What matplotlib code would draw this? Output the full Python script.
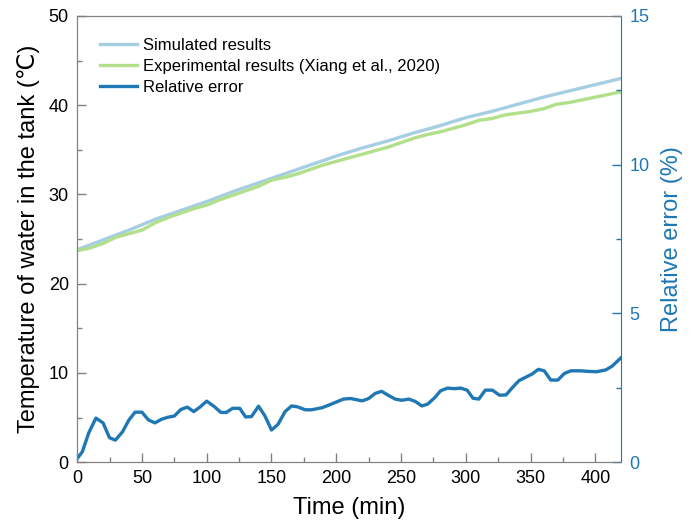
import matplotlib
matplotlib.use("Agg")
import matplotlib.pyplot as plt
from matplotlib.ticker import MultipleLocator

plt.rcParams["font.family"] = ["Liberation Sans", "DejaVu Sans"]

# simulated tank temperature (°C), every 20 min
sim_t = [0, 20, 40, 60, 80, 100, 120, 140, 160, 180, 200, 220, 240, 260, 280,
         300, 320, 340, 360, 380, 400, 420]
sim_T = [23.8, 24.9, 26.0, 27.2, 28.2, 29.2, 30.3, 31.3, 32.3, 33.3, 34.3, 35.2,
         36.0, 36.9, 37.7, 38.6, 39.3, 40.1, 40.9, 41.6, 42.3, 43.0]

# experimental tank temperature (°C), every 10 min
exp_t = list(range(0, 421, 10))
exp_T = [23.7, 24.0, 24.5, 25.2, 25.6, 26.0, 26.8, 27.4, 27.9, 28.4, 28.8, 29.4,
         29.9, 30.4, 30.9, 31.6, 31.9, 32.3, 32.8, 33.3, 33.7, 34.1, 34.5, 34.9,
         35.3, 35.8, 36.3, 36.7, 37.0, 37.4, 37.8, 38.3, 38.5, 38.9, 39.1, 39.3,
         39.6, 40.1, 40.3, 40.6, 40.9, 41.2, 41.5]

# relative error (%)
err_t = [0, 4, 9, 14.5, 20, 25, 29.5, 35, 40, 44.7, 50, 55, 60, 65, 70, 75, 80,
         85, 90, 95, 100, 105.5, 111, 115, 120, 125.5, 130, 134.5, 140, 145, 150,
         155, 160.5, 165.5, 170, 176, 181, 189, 195, 200.5, 205.5, 211, 220, 225,
         230, 235, 240, 245.5, 250.5, 256, 261, 266, 270.5, 276, 280.5, 286, 291,
         296, 301, 305.5, 310, 315, 320.5, 326, 331, 336, 341, 346, 351, 356,
         360.5, 365.5, 371, 376, 381, 388.5, 395, 401, 408, 413, 420]
err_v = [0.12, 0.35, 0.99, 1.48, 1.32, 0.82, 0.74, 1.02, 1.42, 1.68, 1.68, 1.42,
         1.32, 1.44, 1.51, 1.55, 1.77, 1.85, 1.70, 1.86, 2.05, 1.88, 1.67, 1.67,
         1.81, 1.81, 1.52, 1.53, 1.88, 1.55, 1.08, 1.27, 1.70, 1.89, 1.86, 1.76,
         1.76, 1.83, 1.93, 2.03, 2.12, 2.14, 2.06, 2.14, 2.31, 2.38, 2.25, 2.12,
         2.08, 2.12, 2.04, 1.89, 1.95, 2.17, 2.40, 2.49, 2.47, 2.49, 2.42, 2.15,
         2.12, 2.42, 2.42, 2.25, 2.26, 2.51, 2.74, 2.85, 2.96, 3.12, 3.07, 2.76,
         2.76, 2.98, 3.07, 3.07, 3.05, 3.04, 3.10, 3.23, 3.52]

c_sim = "#a6cee3"
c_exp = "#b2df8a"
c_err = "#1f78b4"
grey = "#808080"

fig = plt.figure(figsize=(6.95, 5.30), dpi=100)
ax = fig.add_axes([0.111, 0.128, 0.783, 0.842])
ax2 = ax.twinx()

l1, = ax.plot(sim_t, sim_T, color=c_sim, lw=2.4, label="Simulated results")
l2, = ax.plot(exp_t, exp_T, color=c_exp, lw=2.4,
              label="Experimental results (Xiang et al., 2020)")
l3, = ax2.plot(err_t, err_v, color=c_err, lw=2.4, label="Relative error")

ax.set_xlim(0, 420)
ax.set_ylim(0, 50)
ax2.set_ylim(0, 15)

ax.xaxis.set_major_locator(MultipleLocator(50))
ax.xaxis.set_minor_locator(MultipleLocator(25))
ax.yaxis.set_major_locator(MultipleLocator(10))
ax.yaxis.set_minor_locator(MultipleLocator(5))
ax2.yaxis.set_major_locator(MultipleLocator(5))
ax2.yaxis.set_minor_locator(MultipleLocator(2.5))

ax.tick_params(which="both", direction="in", color=grey, labelsize=13, pad=6)
ax.tick_params(which="major", length=6.5, width=1)
ax.tick_params(which="minor", length=3.6, width=1)
ax2.tick_params(which="both", direction="in", color=c_err, labelcolor=c_err,
                labelsize=13, pad=6)
ax2.tick_params(which="major", length=6.5, width=1)
ax2.tick_params(which="minor", length=3.6, width=1)

for side in ("left", "bottom", "top"):
    ax.spines[side].set_color(grey)
    ax2.spines[side].set_color(grey)
ax2.spines["right"].set_color(c_err)
ax.spines["right"].set_visible(False)

ax.set_xlabel("Time (min)", fontsize=17, labelpad=7)
ax.set_ylabel("Temperature of water in the tank (℃)", fontsize=17, labelpad=6)
ax2.set_ylabel("Relative error (%)", fontsize=17, color=c_err, labelpad=8)

ax.legend(handles=[l1, l2, l3], loc="upper left", bbox_to_anchor=(0.03, 0.965),
          frameon=False, fontsize=12, handlelength=2.2, handletextpad=0.35,
          labelspacing=0.36, borderaxespad=0)

fig.savefig("out.png", dpi=100)
